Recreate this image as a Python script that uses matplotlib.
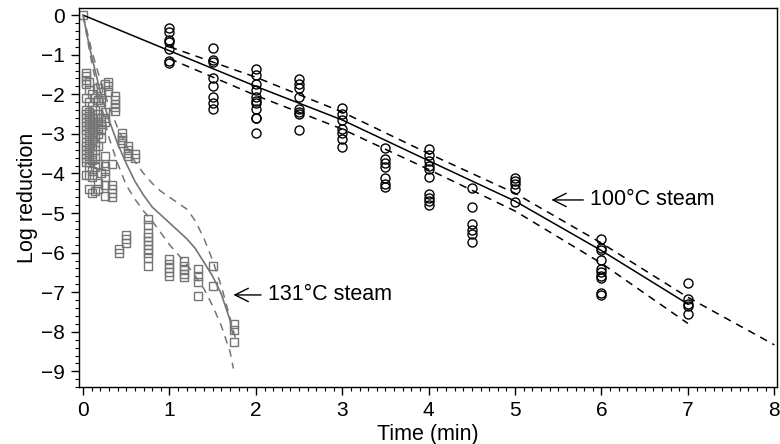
import matplotlib
matplotlib.use("Agg")
import matplotlib.pyplot as plt
from matplotlib.ticker import MultipleLocator

plt.rcParams['font.family'] = ['Liberation Sans', 'DejaVu Sans']

# 100 C steam observations (time in min, log reduction)
times_100 = [1, 1.5, 2, 2.5, 3, 3.5, 4, 4.5, 5, 6, 7]
obs_100 = [
    [-0.33, -0.43, -0.63, -0.69, -0.86, -1.17, -1.22],
    [-0.84, -1.14, -1.19, -1.6, -1.78, -2.08, -2.23, -2.36],
    [-1.37, -1.52, -1.73, -1.9, -2.08, -2.16, -2.23, -2.36, -2.59, -2.61, -2.97],
    [-1.62, -1.73, -1.85, -2.08, -2.36, -2.44, -2.49, -2.89],
    [-2.34, -2.49, -2.66, -2.87, -2.97, -3.12, -3.32],
    [-3.35, -3.63, -3.73, -3.83, -4.11, -4.26, -4.34],
    [-3.38, -3.53, -3.68, -3.81, -3.88, -4.09, -4.52, -4.62, -4.70, -4.80],
    [-4.37, -4.85, -5.28, -5.43, -5.53, -5.74],
    [-4.11, -4.19, -4.26, -4.39, -4.72],
    [-5.66, -5.89, -5.94, -6.19, -6.42, -6.50, -6.60, -6.65, -7.03, -7.08],
    [-6.78, -7.18, -7.31, -7.36, -7.54],
]

# 131 C steam observations
times_131 = [0.0, 0.03, 0.07, 0.1, 0.14, 0.17, 0.21, 0.25, 0.29, 0.33, 0.37,
             0.42, 0.45, 0.5, 0.52, 0.6, 0.75, 1.0, 1.17, 1.33, 1.5, 1.75]
obs_131 = [
    [0.0],
    [-1.45, -1.55, -1.65, -1.75, -2.1, -2.4, -2.5, -2.6, -2.7, -2.8, -2.9, -3.0,
     -3.2, -3.3, -3.4, -3.5, -3.6, -3.7, -4.05],
    [-1.7, -1.9, -2.2, -2.45, -2.55, -2.65, -2.75, -2.85, -2.95, -3.1, -3.25,
     -3.35, -3.45, -3.55, -3.7, -3.85, -4.05, -4.4],
    [-2.0, -2.3, -2.5, -2.6, -2.7, -2.8, -2.9, -3.0, -3.15, -3.3, -3.5, -3.65,
     -3.95, -4.1, -4.5],
    [-2.1, -2.4, -2.6, -2.75, -2.9, -3.05, -3.2, -3.4, -3.6, -3.85, -4.45],
    [-1.85, -2.15, -2.5, -2.7, -2.85, -3.0, -3.3, -3.75, -4.25, -4.4],
    [-1.95, -2.1, -2.2, -2.6, -2.75, -2.87, -3.1, -4.0],
    [-1.75, -2.45, -2.6, -2.7, -3.55, -3.8, -3.95, -4.1, -4.3, -4.57],
    [-1.7, -1.8, -1.95],
    [-3.75, -4.3, -4.4, -4.5, -4.6],
    [-2.05, -2.15, -2.25, -2.33, -2.41],
    [-5.9, -6.0],
    [-2.97, -3.07, -3.15, -3.22],
    [-5.55, -5.65, -5.75],
    [-3.3, -3.4, -3.48, -3.55],
    [-3.5, -3.6],
    [-5.15, -5.3, -5.5, -5.6, -5.7, -5.8, -5.9, -6.0, -6.14, -6.35],
    [-6.17, -6.3, -6.4, -6.5, -6.6],
    [-6.2, -6.35, -6.45, -6.55, -6.62],
    [-6.42, -6.6, -6.75, -7.1],
    [-6.35, -6.85],
    [-7.8, -7.95, -8.25],
]

# 100 C fitted curve with confidence bands
fit100_t = [0, 1, 2, 3, 4, 5, 6, 7]
fit100_y = [0, -0.9, -1.8, -2.65, -3.68, -4.7, -5.95, -7.3]
up100_t = [1, 2, 3, 4, 5, 6, 7, 8]
up100_y = [-0.8, -1.57, -2.45, -3.5, -4.5, -5.76, -7.13, -8.33]
lo100_t = [1, 2, 3, 4, 5, 6, 7]
lo100_y = [-1.1, -2.03, -2.88, -3.9, -4.95, -6.27, -7.79]

# 131 C fitted curve with confidence bands
fit131_t = [0, 0.05, 0.1, 0.2, 0.3, 0.4, 0.5, 0.6, 0.7, 0.8, 0.9, 1.0,
            1.1, 1.2, 1.3, 1.4, 1.5, 1.6, 1.7, 1.73]
fit131_y = [0, -0.55, -1.05, -1.95, -2.65, -3.25, -3.75, -4.2, -4.55, -4.85,
            -5.05, -5.25, -5.45, -5.65, -5.9, -6.25, -6.6, -7.05, -7.7, -8.05]
up131_t = [0, 0.1, 0.2, 0.3, 0.4, 0.5, 0.6, 0.7, 0.8, 0.9, 1.0, 1.1, 1.2,
           1.3, 1.4, 1.5, 1.6, 1.7, 1.78]
up131_y = [0, -0.9, -1.65, -2.3, -2.85, -3.3, -3.7, -4.0, -4.25, -4.45, -4.6,
           -4.75, -4.9, -5.2, -5.65, -6.2, -6.85, -7.65, -8.3]
lo131_t = [0, 0.1, 0.2, 0.3, 0.4, 0.5, 0.6, 0.7, 0.8, 0.9, 1.0, 1.1, 1.2,
           1.3, 1.4, 1.5, 1.6, 1.7, 1.74]
lo131_y = [0, -1.2, -2.2, -3.1, -3.75, -4.3, -4.65, -4.95, -5.2, -5.5, -5.8,
           -6.05, -6.3, -6.6, -6.92, -7.35, -7.85, -8.5, -8.93]

gray = '#757575'

fig = plt.figure(figsize=(7.8, 4.44), dpi=100)
ax = fig.add_axes([0.101, 0.128, 0.895, 0.854])

# observations
for t, ys in zip(times_131, obs_131):
    ax.plot([t] * len(ys), ys, 's', ms=6, mfc='none', mec=gray, mew=1.0)
for t, ys in zip(times_100, obs_100):
    ax.plot([t] * len(ys), ys, 'o', ms=6.5, mfc='none', mec='black', mew=1.0)

# fitted curves
ax.plot(fit100_t, fit100_y, color='black', lw=1.1)
ax.plot(up100_t, up100_y, color='black', lw=1.1, ls=(0, (5, 4)))
ax.plot(lo100_t, lo100_y, color='black', lw=1.1, ls=(0, (5, 4)))
ax.plot(fit131_t, fit131_y, color=gray, lw=1.2)
ax.plot(up131_t, up131_y, color=gray, lw=1.1, ls=(0, (5, 4)))
ax.plot(lo131_t, lo131_y, color=gray, lw=1.1, ls=(0, (5, 4)))

# labels with arrows
ax.annotate('100°C steam', xy=(5.42, -4.67), xytext=(5.87, -4.67),
            fontsize=15.5, va='center', ha='left',
            arrowprops=dict(arrowstyle='->', color='black', lw=1.0,
                            shrinkA=3, shrinkB=0, mutation_scale=24))
ax.annotate('131°C steam', xy=(1.74, -7.07), xytext=(2.14, -7.07),
            fontsize=15.5, va='center', ha='left',
            arrowprops=dict(arrowstyle='->', color='black', lw=1.0,
                            shrinkA=3, shrinkB=0, mutation_scale=24))

ax.set_xlim(-0.05, 8.03)
ax.set_ylim(-9.4, 0.18)
ax.xaxis.set_major_locator(MultipleLocator(1))
ax.xaxis.set_minor_locator(MultipleLocator(0.1))
ax.yaxis.set_minor_locator(MultipleLocator(0.2))
ax.set_yticks(range(-9, 1))
ax.set_yticklabels(['\u2212%d' % -v if v < 0 else '0' for v in range(-9, 1)])
ax.tick_params(which='major', length=6, width=1, labelsize=15, direction='out', pad=4)
ax.tick_params(which='minor', length=3, width=0.8, direction='out')
for s in ax.spines.values():
    s.set_linewidth(1.0)

ax.set_xlabel('Time (min)', fontsize=15.5, labelpad=3)
ax.set_ylabel('Log reduction', fontsize=15.5, labelpad=2)

fig.savefig('out.png', dpi=100)
